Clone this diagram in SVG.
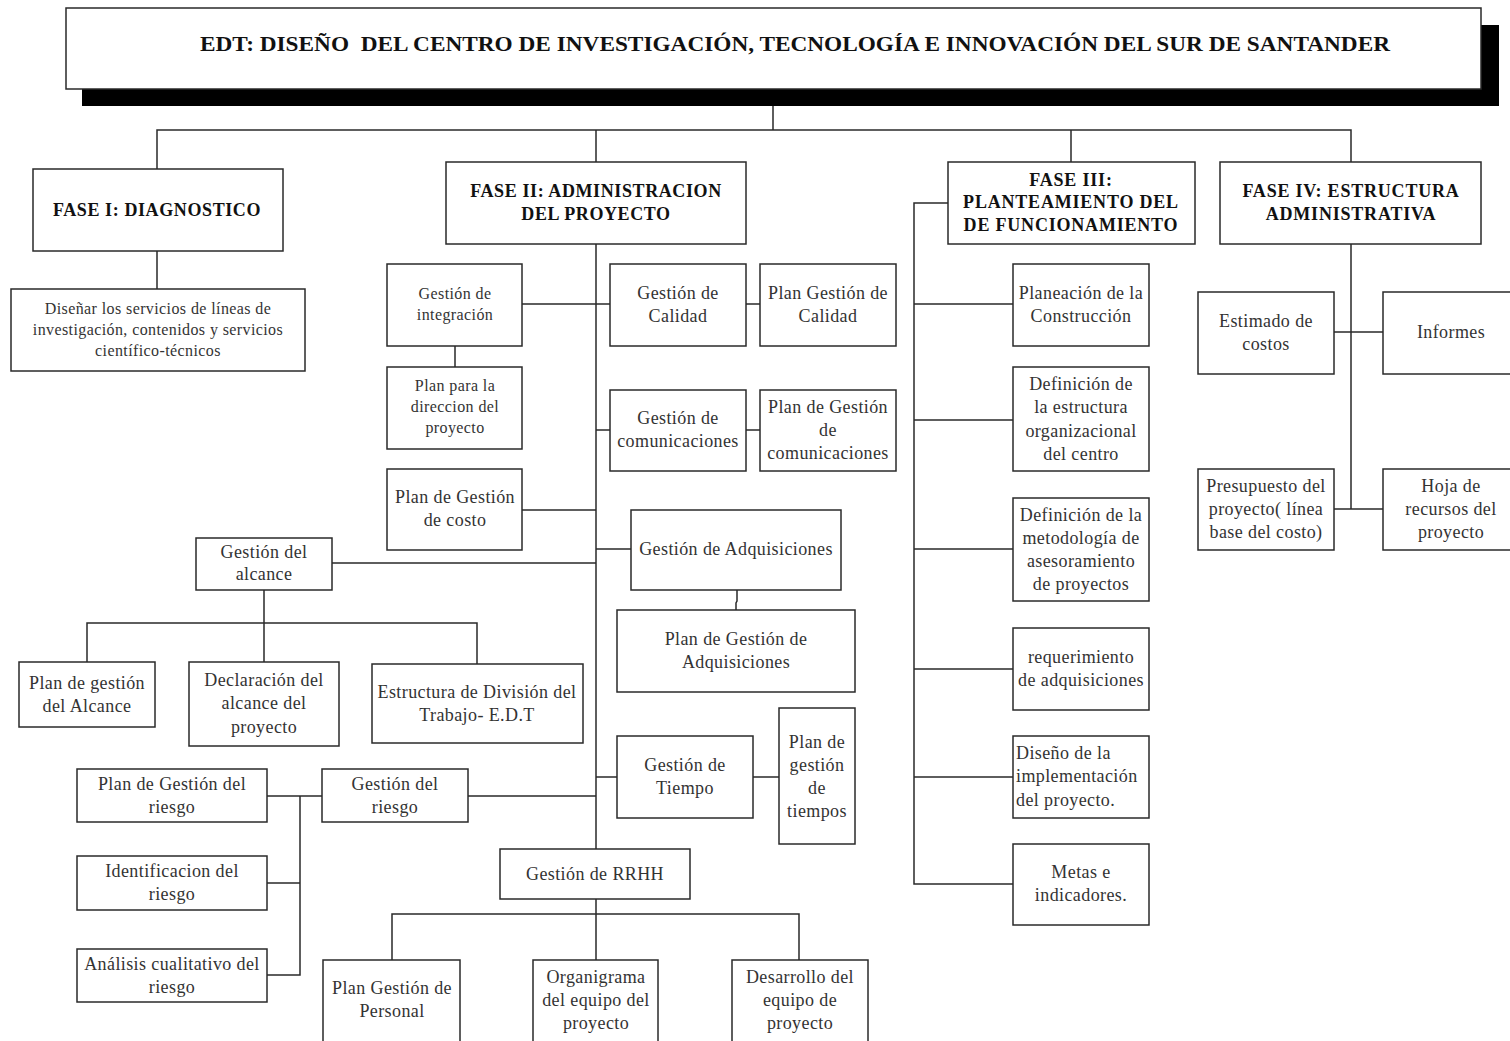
<svg xmlns="http://www.w3.org/2000/svg" width="1510" height="1041" viewBox="0 0 1510 1041">
<style>
.bx{fill:#fff;stroke:#2a2a2a;stroke-width:1.5}
.ln{fill:none;stroke:#2a2a2a;stroke-width:1.5}
.t{font-family:"Liberation Serif","Times New Roman",serif;font-size:18px;letter-spacing:0.4px;fill:#333;text-anchor:middle}
.s{font-size:16px;letter-spacing:0.4px}
.b{font-family:"Liberation Serif","Times New Roman",serif;font-weight:bold;font-size:18px;fill:#111;text-anchor:middle;letter-spacing:0.6px}
.l{text-anchor:start}
</style>
<rect width="1510" height="1041" fill="#fff"/>
<g id="connectors">
<path class="ln" d="M773 106V130M157 169V130H1351V162M596 130V162M1071 130V162M157 251V289"/>
<path class="ln" d="M596 244V849M596 899V960M522 304H610M746 304H760M455 346V367M596 430H610M746 430H760M522 510H596M596 549H631M332 563H596"/>
<path class="ln" d="M264 590V662M87 662V623H477V664M737 590V601L736 603V610M596 777H617M753 777H779M468 796H596M267 796H322M300 796V975H267M267 883H300M392 960V914H799V960"/>
<path class="ln" d="M948 203H914V884H1013M914 304H1013M914 420H1013M914 549H1013M914 669H1013M914 777H1013M1351 244V509M1334 332H1383M1334 509H1383"/>
</g>
<g id="title">
<path d="M82 89H1499V25H1481V106H82Z" fill="#000"/>
<rect x="82" y="89" width="1417" height="17" fill="#000"/>
<rect class="bx" x="66" y="8" width="1415" height="81"/>
<text x="795" y="51" font-family="Liberation Serif,Times New Roman,serif" font-weight="bold" font-size="21" fill="#111" text-anchor="middle" textLength="1190" lengthAdjust="spacingAndGlyphs">EDT: DISEÑO &#160;DEL CENTRO DE INVESTIGACIÓN, TECNOLOGÍA E INNOVACIÓN DEL SUR DE SANTANDER</text>
</g>
<g id="fase1"><rect class="bx" x="33" y="169" width="250" height="82"/><text class="b" x="157" y="216">FASE I: DIAGNOSTICO</text></g>
<g id="disenar"><rect class="bx" x="11" y="289" width="294" height="82"/><text class="t s" x="158"><tspan x="158" y="314">Diseñar los servicios de líneas de</tspan><tspan x="158" y="335">investigación, contenidos y servicios</tspan><tspan x="158" y="356">científico-técnicos</tspan></text></g>
<g id="fase2"><rect class="bx" x="446" y="162" width="300" height="82"/><text class="b"><tspan x="596" y="197">FASE II: ADMINISTRACION</tspan><tspan x="596" y="220">DEL PROYECTO</tspan></text></g>
<g id="integracion"><rect class="bx" x="387" y="264" width="135" height="82"/><text class="t s"><tspan x="455" y="299">Gestión de</tspan><tspan x="455" y="320">integración</tspan></text></g>
<g id="plandireccion"><rect class="bx" x="387" y="367" width="135" height="82"/><text class="t s"><tspan x="455" y="391">Plan para la</tspan><tspan x="455" y="412">direccion del</tspan><tspan x="455" y="433">proyecto</tspan></text></g>
<g id="calidad"><rect class="bx" x="610" y="264" width="136" height="82"/><text class="t"><tspan x="678" y="299">Gestión de</tspan><tspan x="678" y="322">Calidad</tspan></text></g>
<g id="plancalidad"><rect class="bx" x="760" y="264" width="136" height="82"/><text class="t"><tspan x="828" y="299">Plan Gestión de</tspan><tspan x="828" y="322">Calidad</tspan></text></g>
<g id="comunicaciones"><rect class="bx" x="610" y="390" width="136" height="81"/><text class="t"><tspan x="678" y="424">Gestión de</tspan><tspan x="678" y="447">comunicaciones</tspan></text></g>
<g id="plancomunicaciones"><rect class="bx" x="760" y="390" width="136" height="81"/><text class="t"><tspan x="828" y="413">Plan de Gestión</tspan><tspan x="828" y="436">de</tspan><tspan x="828" y="459">comunicaciones</tspan></text></g>
<g id="plancosto"><rect class="bx" x="387" y="469" width="135" height="81"/><text class="t"><tspan x="455" y="503">Plan de Gestión</tspan><tspan x="455" y="526">de costo</tspan></text></g>
<g id="adquisiciones"><rect class="bx" x="631" y="510" width="210" height="80"/><text class="t" x="736" y="555">Gestión de Adquisiciones</text></g>
<g id="alcance"><rect class="bx" x="196" y="538" width="136" height="52"/><text class="t"><tspan x="264" y="558">Gestión del</tspan><tspan x="264" y="580">alcance</tspan></text></g>
<g id="planalcance"><rect class="bx" x="19" y="662" width="136" height="65"/><text class="t"><tspan x="87" y="689">Plan de gestión</tspan><tspan x="87" y="712">del Alcance</tspan></text></g>
<g id="declaracion"><rect class="bx" x="189" y="662" width="150" height="84"/><text class="t"><tspan x="264" y="686">Declaración del</tspan><tspan x="264" y="709">alcance del</tspan><tspan x="264" y="733">proyecto</tspan></text></g>
<g id="estructura"><rect class="bx" x="372" y="664" width="211" height="79"/><text class="t"><tspan x="477" y="698">Estructura de División del</tspan><tspan x="477" y="721">Trabajo- E.D.T</tspan></text></g>
<g id="planadquisiciones"><rect class="bx" x="617" y="610" width="238" height="82"/><text class="t"><tspan x="736" y="645">Plan de Gestión de</tspan><tspan x="736" y="668">Adquisiciones</tspan></text></g>
<g id="tiempo"><rect class="bx" x="617" y="736" width="136" height="82"/><text class="t"><tspan x="685" y="771">Gestión de</tspan><tspan x="685" y="794">Tiempo</tspan></text></g>
<g id="plantiempos"><rect class="bx" x="779" y="708" width="76" height="136"/><text class="t"><tspan x="817" y="748">Plan de</tspan><tspan x="817" y="771">gestión</tspan><tspan x="817" y="794">de</tspan><tspan x="817" y="817">tiempos</tspan></text></g>
<g id="riesgo"><rect class="bx" x="322" y="769" width="146" height="53"/><text class="t"><tspan x="395" y="790">Gestión del</tspan><tspan x="395" y="813">riesgo</tspan></text></g>
<g id="planriesgo"><rect class="bx" x="77" y="769" width="190" height="53"/><text class="t"><tspan x="172" y="790">Plan de Gestión del</tspan><tspan x="172" y="813">riesgo</tspan></text></g>
<g id="identificacion"><rect class="bx" x="77" y="856" width="190" height="54"/><text class="t"><tspan x="172" y="877">Identificacion del</tspan><tspan x="172" y="900">riesgo</tspan></text></g>
<g id="analisis"><rect class="bx" x="77" y="949" width="190" height="53"/><text class="t"><tspan x="172" y="970">Análisis cualitativo del</tspan><tspan x="172" y="993">riesgo</tspan></text></g>
<g id="rrhh"><rect class="bx" x="500" y="849" width="190" height="50"/><text class="t" x="595" y="880">Gestión de RRHH</text></g>
<g id="personal"><rect class="bx" x="323" y="960" width="137" height="95"/><text class="t"><tspan x="392" y="994">Plan Gestión de</tspan><tspan x="392" y="1017">Personal</tspan></text></g>
<g id="organigrama"><rect class="bx" x="533" y="960" width="125" height="95"/><text class="t"><tspan x="596" y="983">Organigrama</tspan><tspan x="596" y="1006">del equipo del</tspan><tspan x="596" y="1029">proyecto</tspan></text></g>
<g id="desarrollo"><rect class="bx" x="732" y="960" width="136" height="95"/><text class="t"><tspan x="800" y="983">Desarrollo del</tspan><tspan x="800" y="1006">equipo de</tspan><tspan x="800" y="1029">proyecto</tspan></text></g>
<g id="fase3"><rect class="bx" x="948" y="162" width="247" height="82"/><text class="b" style="letter-spacing:0.8px"><tspan x="1071" y="186">FASE III:</tspan><tspan x="1071" y="208">PLANTEAMIENTO DEL</tspan><tspan x="1071" y="231">DE FUNCIONAMIENTO</tspan></text></g>
<g id="planeacion"><rect class="bx" x="1013" y="264" width="136" height="82"/><text class="t"><tspan x="1081" y="299">Planeación de la</tspan><tspan x="1081" y="322">Construcción</tspan></text></g>
<g id="defestructura"><rect class="bx" x="1013" y="367" width="136" height="104"/><text class="t"><tspan x="1081" y="390">Definición de</tspan><tspan x="1081" y="413">la estructura</tspan><tspan x="1081" y="437">organizacional</tspan><tspan x="1081" y="460">del centro</tspan></text></g>
<g id="defmetodologia"><rect class="bx" x="1013" y="498" width="136" height="103"/><text class="t"><tspan x="1081" y="521">Definición de la</tspan><tspan x="1081" y="544">metodología de</tspan><tspan x="1081" y="567">asesoramiento</tspan><tspan x="1081" y="590">de proyectos</tspan></text></g>
<g id="requerimiento"><rect class="bx" x="1013" y="628" width="136" height="82"/><text class="t"><tspan x="1081" y="663">requerimiento</tspan><tspan x="1081" y="686">de adquisiciones</tspan></text></g>
<g id="diseno"><rect class="bx" x="1013" y="736" width="136" height="82"/><text class="t l"><tspan x="1016" y="759">Diseño de la</tspan><tspan x="1016" y="782">implementación</tspan><tspan x="1016" y="806">del proyecto.</tspan></text></g>
<g id="metas"><rect class="bx" x="1013" y="844" width="136" height="81"/><text class="t"><tspan x="1081" y="878">Metas e</tspan><tspan x="1081" y="901">indicadores.</tspan></text></g>
<g id="fase4"><rect class="bx" x="1220" y="162" width="261" height="82"/><text class="b" style="letter-spacing:0.8px"><tspan x="1351" y="197">FASE IV: ESTRUCTURA</tspan><tspan x="1351" y="220">ADMINISTRATIVA</tspan></text></g>
<g id="estimado"><rect class="bx" x="1198" y="292" width="136" height="82"/><text class="t"><tspan x="1266" y="327">Estimado de</tspan><tspan x="1266" y="350">costos</tspan></text></g>
<g id="informes"><rect class="bx" x="1383" y="292" width="140" height="82"/><text class="t" x="1451" y="338">Informes</text></g>
<g id="presupuesto"><rect class="bx" x="1198" y="469" width="136" height="81"/><text class="t"><tspan x="1266" y="492">Presupuesto del</tspan><tspan x="1266" y="515">proyecto( línea</tspan><tspan x="1266" y="538">base del costo)</tspan></text></g>
<g id="hoja"><rect class="bx" x="1383" y="469" width="140" height="81"/><text class="t"><tspan x="1451" y="492">Hoja de</tspan><tspan x="1451" y="515">recursos del</tspan><tspan x="1451" y="538">proyecto</tspan></text></g>
</svg>
